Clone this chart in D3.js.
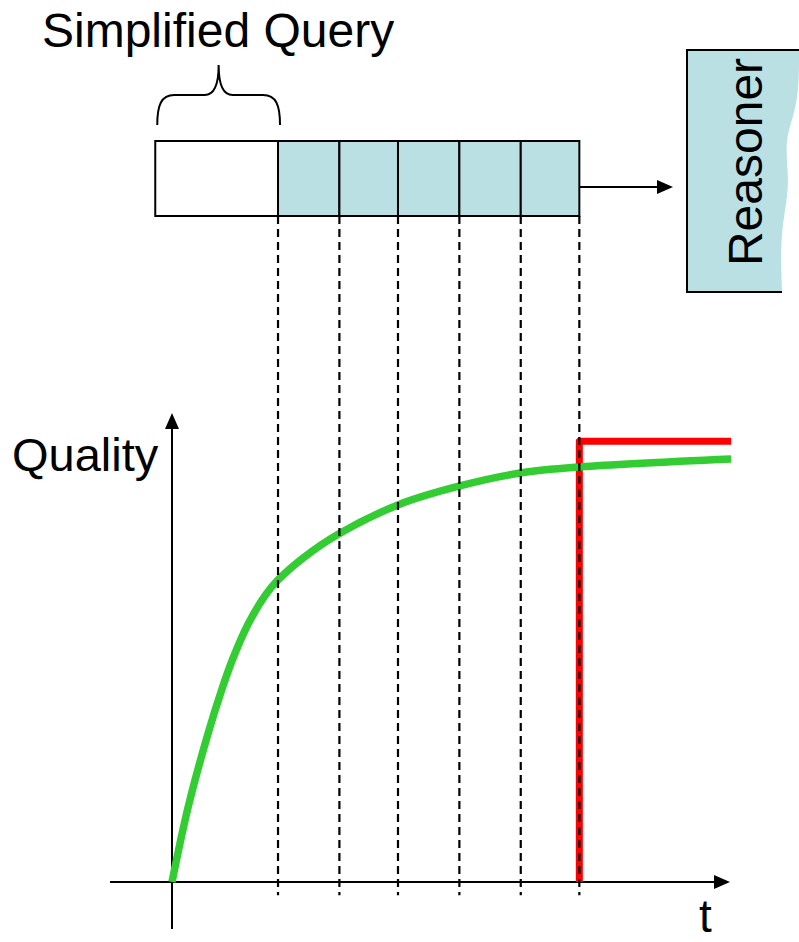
<!DOCTYPE html>
<html lang="en">
<meta charset="utf-8">
<head>
    <script src="https://d3js.org/d3.v7.min.js"></script>
    <style>
        body { margin: 0; background: #fff; }
        text { font-family: "Liberation Sans", Arial, sans-serif; fill: #000; }
    </style>
</head>
<body>
<script>
// cell boundaries of the query (time units), first cell = simplified query
const cellEdges = [-0.3, 1.9, 3.0, 4.05, 5.15, 6.25, 7.3];

// green curve: quality of the anytime answer over time
const curveT = [0, 0.29, 0.63, 0.9, 1.09, 1.36, 1.67, 1.9, 2.35, 2.97, 4.07, 5.14, 6.24, 7.31, 10.02];
const curveQ = [0, 0.16, 0.31, 0.413, 0.476, 0.549, 0.611, 0.644, 0.691, 0.741, 0.805, 0.844, 0.872, 0.885, 0.902];

// red step: full reasoner answer
const stepT = [7.3, 7.3, 10.02];
const stepQ = [0, 0.94, 0.94];

const labels = {top: "Simplified Query", reasoner: "Reasoner", y: "Quality", x: "t"};

const width = 799, height = 942;
const blue = "#bbe0e3";

const svg = d3.select("body").append("svg")
    .attr("width", width)
    .attr("height", height);

// scales
const x = d3.scaleLinear().domain([0, 10]).range([172, 730]);
const y = d3.scaleLinear().domain([0, 1]).range([882, 413]);

// query box
const boxTop = 141, boxBottom = 216;
const cells = d3.pairs(cellEdges);
svg.selectAll("rect.cell")
    .data(cells)
    .join("rect")
    .attr("class", "cell")
    .attr("x", d => x(d[0]))
    .attr("y", boxTop)
    .attr("width", d => x(d[1]) - x(d[0]))
    .attr("height", boxBottom - boxTop)
    .attr("fill", (d, i) => i == 0 ? "#fff" : blue)
    .attr("stroke", "#000")
    .attr("stroke-width", 2);

// curly brace over simplified query
const bx0 = x(cellEdges[0]) + 2, bx1 = x(cellEdges[1]) + 2, bm = (bx0 + bx1) / 2;
svg.append("path")
    .attr("d", `M${bx0},125 C${bx0},105 ${bx0 + 4},95 ${bx0 + 17},95 L${bm - 14},95 C${bm - 5},95 ${bm},85 ${bm},65 ` +
               `C${bm},85 ${bm + 5},95 ${bm + 14},95 L${bx1 - 17},95 C${bx1 - 4},95 ${bx1},105 ${bx1},125`)
    .attr("fill", "none")
    .attr("stroke", "#000")
    .attr("stroke-width", 2);

svg.append("text")
    .attr("x", 42).attr("y", 47)
    .attr("font-size", 48)
    .text(labels.top);

// arrow to reasoner
const ax0 = x(cellEdges[cellEdges.length - 1]);
svg.append("line")
    .attr("x1", ax0).attr("x2", 660)
    .attr("y1", 187).attr("y2", 187)
    .attr("stroke", "#000").attr("stroke-width", 2);
svg.append("path")
    .attr("d", "M657,180 L673,187 L657,194 Z")
    .attr("fill", "#000");

// reasoner shape with torn right edge
const edge = d3.line().curve(d3.curveBasis)([[799, 50], [799, 105], [783, 140], [791, 185], [780, 230], [782, 292]]);
svg.append("path")
    .attr("d", "M687,50 L" + edge.slice(1) + " L687,292 Z")
    .attr("fill", blue);
svg.append("path")
    .attr("d", "M799,50 L687,50 L687,292 L782,292")
    .attr("fill", "none")
    .attr("stroke", "#000").attr("stroke-width", 2);
svg.append("text")
    .attr("transform", "translate(762,162) rotate(-90)")
    .attr("text-anchor", "middle")
    .attr("font-size", 48)
    .text(labels.reasoner);

// axes
const ox = x(0), oy = y(0), topY = y(1), endX = x(10);
svg.append("line")
    .attr("x1", ox).attr("x2", ox)
    .attr("y1", y(-0.1)).attr("y2", topY + 10)
    .attr("stroke", "#000").attr("stroke-width", 2);
svg.append("path")
    .attr("d", `M${ox},${topY} L${ox - 7},${topY + 16} L${ox + 7},${topY + 16} Z`)
    .attr("fill", "#000");
svg.append("line")
    .attr("x1", x(-1.11)).attr("x2", endX - 10)
    .attr("y1", oy).attr("y2", oy)
    .attr("stroke", "#000").attr("stroke-width", 2);
svg.append("path")
    .attr("d", `M${endX},${oy} L${endX - 16},${oy - 7} L${endX - 16},${oy + 7} Z`)
    .attr("fill", "#000");

svg.append("text")
    .attr("x", 12).attr("y", 471)
    .attr("font-size", 47)
    .text(labels.y);
svg.append("text")
    .attr("x", 699).attr("y", 932)
    .attr("font-size", 46)
    .text(labels.x);

// red step line
svg.append("path")
    .datum(d3.zip(stepT, stepQ))
    .attr("fill", "none")
    .attr("stroke", "#ff0000")
    .attr("stroke-width", 7)
    .attr("stroke-linejoin", "round")
    .attr("d", d3.line().x(d => x(d[0])).y(d => y(d[1])));

// green quality curve
svg.append("path")
    .datum(d3.zip(curveT, curveQ))
    .attr("fill", "none")
    .attr("stroke", "#33cc33")
    .attr("stroke-width", 7.5)
    .attr("d", d3.line().curve(d3.curveCatmullRom.alpha(0.5)).x(d => x(d[0])).y(d => y(d[1])));

// dashed guides from the box down past the t axis, on top of the lines
svg.selectAll("line.guide")
    .data(cellEdges.slice(1))
    .join("line")
    .attr("class", "guide")
    .attr("x1", d => x(d)).attr("x2", d => x(d))
    .attr("y1", boxBottom).attr("y2", y(-0.028))
    .attr("stroke", "#000")
    .attr("stroke-width", 2.2)
    .attr("stroke-dasharray", "8,5");
</script>
</body>
</html>
